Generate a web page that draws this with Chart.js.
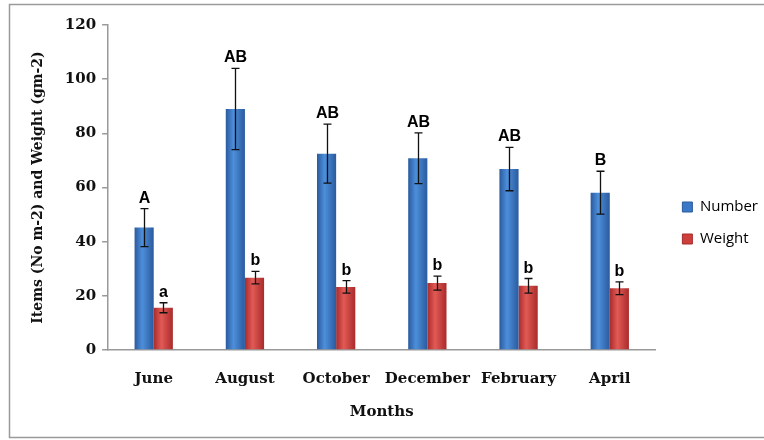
<!DOCTYPE html>
<html><head><meta charset="utf-8">
<script src="https://cdn.jsdelivr.net/npm/chart.js@4"></script>
<style>html,body{margin:0;padding:0;background:#fff;overflow:hidden}</style>
</head><body>
<canvas id="c" width="764" height="440"></canvas>
<script>
const months = ['June', 'August', 'October', 'December', 'February', 'April'];
const numberMeans = [45.2, 89, 72.5, 70.8, 66.8, 58.1];
const numberErrors = [7, 15, 10.9, 9.4, 8, 7.9];
const weightMeans = [15.6, 26.7, 23.3, 24.7, 23.7, 22.8];
const weightErrors = [1.85, 2.3, 2.3, 2.6, 2.7, 2.35];
const numberLetters = ['A', 'AB', 'AB', 'AB', 'AB', 'B'];
const weightLetters = ['a', 'b', 'b', 'b', 'b', 'b'];
const seriesNames = ['Number', 'Weight'];
const yMin = 0, yMax = 120, yStep = 20;

const CAT_PCT = 0.42;
const LEGEND_GAP = 10;
const palette = [
  {edge: '#2a5a9e', mid: '#4d8fdb', solid: '#3b78c8'},
  {edge: '#a82b2b', mid: '#e25a55', solid: '#cc3f3c'}
];

function barFill(di) {
  return (ctx) => {
    const chart = ctx.chart;
    const xs = chart.scales && chart.scales.x;
    if (!chart.chartArea || !xs || ctx.dataIndex === undefined) return palette[di].solid;
    const center = xs.getPixelForValue(ctx.dataIndex);
    const catW = xs.width / months.length;
    const barW = catW * CAT_PCT / 2;
    const left = center - catW * CAT_PCT / 2 + di * barW;
    const g = chart.ctx.createLinearGradient(left, 0, left + barW, 0);
    g.addColorStop(0, palette[di].edge);
    g.addColorStop(0.4, palette[di].mid);
    g.addColorStop(1, palette[di].edge);
    return g;
  };
}

const frame = {
  id: 'frame',
  beforeDraw(chart) {
    const c = chart.ctx;
    c.save();
    c.strokeStyle = '#9a9a9a';
    c.lineWidth = 1.5;
    c.strokeRect(9.5, 4.5, 820, 433);
    c.restore();
  }
};

const legendGap = {
  id: 'legendGap',
  afterInit(chart) {
    const lg = chart.legend;
    if (!lg) return;
    const orig = lg.fit.bind(lg);
    lg.fit = function () { orig(); this.width += LEGEND_GAP; };
  },
  afterLayout(chart) {
    if (chart.legend) chart.legend.left += LEGEND_GAP;
  }
};

const errorBars = {
  id: 'errorBars',
  afterDatasetsDraw(chart) {
    const c = chart.ctx;
    const y = chart.scales.y;
    const sets = [[numberMeans, numberErrors, numberLetters], [weightMeans, weightErrors, weightLetters]];
    c.save();
    sets.forEach((s, di) => {
      const meta = chart.getDatasetMeta(di);
      meta.data.forEach((bar, j) => {
        const x = Math.round(bar.x) + 0.5;
        const top = y.getPixelForValue(s[0][j] + s[1][j]);
        const bot = y.getPixelForValue(s[0][j] - s[1][j]);
        c.strokeStyle = '#111';
        c.lineWidth = 1.3;
        c.beginPath();
        c.moveTo(x, top); c.lineTo(x, bot);
        c.moveTo(x - 4, top); c.lineTo(x + 4, top);
        c.moveTo(x - 4, bot); c.lineTo(x + 4, bot);
        c.stroke();
        c.fillStyle = '#000';
        c.font = 'bold 16px "Liberation Sans", Arial, sans-serif';
        c.textAlign = 'center';
        c.textBaseline = 'alphabetic';
        c.fillText(s[2][j], x, top - 6);
      });
    });
    c.restore();
  }
};

new Chart(document.getElementById('c'), {
  type: 'bar',
  data: {
    labels: months,
    datasets: [
      {label: seriesNames[0], data: numberMeans, backgroundColor: barFill(0), borderWidth: 0},
      {label: seriesNames[1], data: weightMeans, backgroundColor: barFill(1), borderWidth: 0}
    ]
  },
  options: {
    responsive: false,
    animation: false,
    devicePixelRatio: 1,
    layout: {padding: {left: 26, top: 25, right: -4, bottom: 19}},
    datasets: {bar: {categoryPercentage: CAT_PCT, barPercentage: 1}},
    plugins: {
      tooltip: {enabled: false},
      legend: {
        position: 'right',
        align: 'center',
        labels: {
          boxWidth: 10, boxHeight: 10, padding: 17,
          color: '#222',
          font: {family: '"Open Sans", sans-serif', size: 15},
          generateLabels: (chart) => seriesNames.map((n, i) => ({
            text: n, fillStyle: palette[i].solid, strokeStyle: palette[i].edge,
            lineWidth: 1, hidden: false, datasetIndex: i
          }))
        }
      }
    },
    scales: {
      x: {
        grid: {display: false},
        border: {display: true, color: '#999', width: 1.5},
        ticks: {color: '#111', padding: 12, maxRotation: 0, minRotation: 0, autoSkip: false, font: {family: '"DejaVu Serif", serif', weight: 'bold', size: 15}},
        title: {display: true, text: 'Months', color: '#111', padding: {top: 3, bottom: 0}, font: {family: '"DejaVu Serif", serif', weight: 'bold', size: 15}}
      },
      y: {
        min: yMin, max: yMax,
        grid: {display: true, drawOnChartArea: false, drawTicks: true, tickLength: 6, color: '#999', lineWidth: 1.5},
        border: {display: true, color: '#999', width: 1.5},
        ticks: {stepSize: yStep, color: '#111', padding: 6, font: {family: '"DejaVu Serif", serif', weight: 'bold', size: 15}},
        title: {display: true, text: 'Items (No m-2) and Weight (gm-2)', color: '#111', padding: {bottom: 12}, font: {family: '"DejaVu Serif", serif', weight: 'bold', size: 14}}
      }
    }
  },
  plugins: [frame, legendGap, errorBars]
});
</script>
</body></html>
